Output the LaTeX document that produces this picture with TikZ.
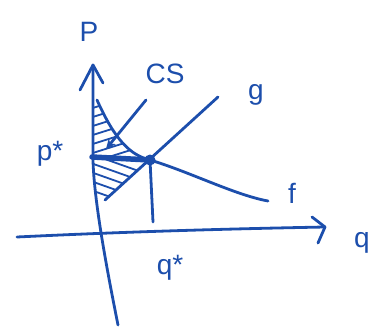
\documentclass[tikz,border=0pt]{standalone}
\usepackage{fontspec}
\setmainfont{Liberation Sans}
\usetikzlibrary{arrows.meta}
\definecolor{ink}{RGB}{28,78,172}
\begin{document}
\begin{tikzpicture}[x=1pt,y=-1pt,
  pen/.style={draw=ink,line width=2.8pt,line cap=round,line join=round},
  lab/.style={text=ink,font=\fontsize{28}{30}\selectfont,inner sep=0pt},
  hatch/.style={draw=ink,line width=1.8pt,line cap=round}]
\useasboundingbox (0,0) rectangle (390,331);
% key points
\coordinate (ytop) at (93,65);
\coordinate (ybot) at (118,325);
\coordinate (xl) at (17,237);
\coordinate (xr) at (325,227);
\coordinate (E) at (150,160);
\coordinate (pst) at (92,157);
\coordinate (gl) at (105,200);
\coordinate (gr) at (218,97);
\coordinate (ft) at (97,100);
\coordinate (fr) at (268,201);
\coordinate (qv) at (153,222);
\coordinate (csA) at (146,100);
\coordinate (csB) at (106,149);
% hatching
\begin{scope}
  \clip (pst) -- (93,100) -- (ft) .. controls (115,140) and (130,155) .. (E) -- cycle;
  \foreach \i in {0,...,6} \draw[hatch] (80,{112+9*\i}) -- (150,{90+9*\i});
\end{scope}
\begin{scope}
  \clip (pst) -- (E) -- (gl) -- (96,200) -- cycle;
  \foreach \i in {0,...,5} \draw[hatch] (85,{152+9*\i}) -- (150,{175+9*\i});
\end{scope}
% axes
\draw[pen] (ybot) .. controls (106,265) and (94,200) .. (93,160) -- (ytop);
\draw[pen] (80,90) -- (ytop) -- (103,83);
\draw[pen] (xl) .. controls (120,232) and (220,229) .. (xr);
\draw[pen] (312,217) -- (xr) -- (318,243);
% curves
\draw[pen] (gl) -- (gr);
\draw[pen] (ft) .. controls (115,140) and (130,155) .. (E) .. controls (190,172) and (235,195) .. (fr);
\draw[pen] (E) -- (qv);
\draw[draw=ink,line width=5.5pt,line cap=round] (pst) -- (E);
\fill[ink] (E) circle (5.5);
% CS arrow
\draw[pen,-{Stealth[length=10pt,width=9pt]}] (csA) -- (csB);
% labels
\node[lab] (lP) at (89,32) {P};
\node[lab] (lCS) at (165,74) {CS};
\node[lab] (lg) at (256,95) {g};
\node[lab] (lp) at (50,154) {p*};
\node[lab] (lf) at (292,193) {f};
\node[lab] (lq) at (362,243) {q};
\node[lab] (lqs) at (170,268) {q*};
\end{tikzpicture}
\end{document}
